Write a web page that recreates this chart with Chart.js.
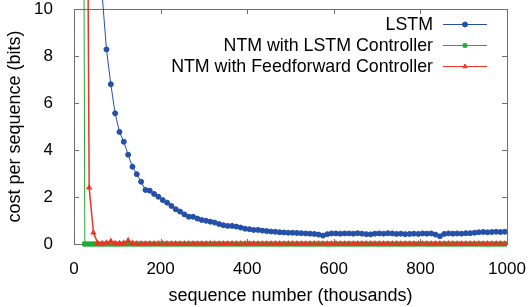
<!DOCTYPE html>
<html>
<head>
<meta charset="utf-8">
<script src="https://cdn.jsdelivr.net/npm/chart.js@4.4.1/dist/chart.umd.min.js"></script>
<style>
  body { margin: 0; background: #fff; }
  #wrap { width: 530px; height: 307px; }
</style>
</head>
<body>
<div id="wrap"><canvas id="chart" width="530" height="307"></canvas></div>
<script>
// sequence numbers (thousands) and cost per sequence (bits)
const lstmSeq = [5, 15, 25, 35, 45, 55, 65, 75, 85, 95,
  105, 115, 125, 135, 145, 155, 165, 175, 185, 195,
  205, 215, 225, 235, 245, 255, 265, 275, 285, 295,
  305, 315, 325, 335, 345, 355, 365, 375, 385, 395,
  405, 415, 425, 435, 445, 455, 465, 475, 485, 495,
  505, 515, 525, 535, 545, 555, 565, 575, 585, 595,
  605, 615, 625, 635, 645, 655, 665, 675, 685, 695,
  705, 715, 725, 735, 745, 755, 765, 775, 785, 795,
  805, 815, 825, 835, 845, 855, 865, 875, 885, 895,
  905, 915, 925, 935, 945, 955, 965, 975, 985, 995];
const lstmCost = [28, 26, 24, 21, 18, 15, 10.6, 8.28, 6.80, 5.56,
  4.77, 4.35, 3.80, 3.29, 2.97, 2.65, 2.30, 2.27, 2.13, 2.01,
  1.87, 1.76, 1.62, 1.48, 1.38, 1.26, 1.16, 1.16, 1.08, 1.02,
  0.99, 0.95, 0.91, 0.85, 0.80, 0.77, 0.77, 0.74, 0.70, 0.65,
  0.63, 0.60, 0.60, 0.57, 0.55, 0.53, 0.52, 0.50, 0.49, 0.48,
  0.48, 0.47, 0.46, 0.45, 0.44, 0.43, 0.40, 0.36, 0.42, 0.45,
  0.45, 0.44, 0.45, 0.45, 0.44, 0.46, 0.44, 0.42, 0.41, 0.44,
  0.45, 0.44, 0.46, 0.45, 0.43, 0.44, 0.42, 0.43, 0.44, 0.43,
  0.45, 0.44, 0.45, 0.40, 0.33, 0.43, 0.45, 0.44, 0.45, 0.44,
  0.46, 0.46, 0.48, 0.50, 0.51, 0.50, 0.51, 0.52, 0.51, 0.52];

const ntmLstmSeq = [15, 25, 35, 45, 55, 65, 75, 85, 95,
  105, 115, 125, 135, 145, 155, 165, 175, 185, 195,
  205, 215, 225, 235, 245, 255, 265, 275, 285, 295,
  305, 315, 325, 335, 345, 355, 365, 375, 385, 395,
  405, 415, 425, 435, 445, 455, 465, 475, 485, 495,
  505, 515, 525, 535, 545, 555, 565, 575, 585, 595,
  605, 615, 625, 635, 645, 655, 665, 675, 685, 695,
  705, 715, 725, 735, 745, 755, 765, 775, 785, 795,
  805, 815, 825, 835, 845, 855, 865, 875, 885, 895,
  905, 915, 925, 935, 945, 955, 965, 975, 985, 995];
const ntmLstmCost = [60, 0, 0, 0, 0, 0, 0, 0, 0,
  0, 0, 0, 0, 0, 0, 0, 0, 0, 0,
  0, 0, 0, 0, 0, 0, 0, 0, 0, 0,
  0, 0, 0, 0, 0, 0, 0, 0, 0, 0,
  0, 0, 0, 0, 0, 0, 0, 0, 0, 0,
  0, 0, 0, 0, 0, 0, 0, 0, 0, 0,
  0, 0, 0, 0, 0, 0, 0, 0, 0, 0,
  0, 0, 0, 0, 0, 0, 0, 0, 0, 0,
  0, 0, 0, 0, 0, 0, 0, 0, 0, 0,
  0, 0, 0, 0, 0, 0, 0, 0, 0, 0];

const ntmFfSeq = [25, 35, 45, 55, 65, 75, 85, 95,
  105, 115, 125, 135, 145, 155, 165, 175, 185, 195,
  205, 215, 225, 235, 245, 255, 265, 275, 285, 295,
  305, 315, 325, 335, 345, 355, 365, 375, 385, 395,
  405, 415, 425, 435, 445, 455, 465, 475, 485, 495,
  505, 515, 525, 535, 545, 555, 565, 575, 585, 595,
  605, 615, 625, 635, 645, 655, 665, 675, 685, 695,
  705, 715, 725, 735, 745, 755, 765, 775, 785, 795,
  805, 815, 825, 835, 845, 855, 865, 875, 885, 895,
  905, 915, 925, 935, 945, 955, 965, 975, 985, 995];
const ntmFfCost = [37, 2.4, 0.48, 0.03, 0.02, 0.05, 0.12, 0.03,
  0.02, 0.04, 0.15, 0.03, 0.01, 0.01, 0.01, 0.01, 0.01, 0.01,
  0.01, 0.01, 0.01, 0.01, 0.01, 0.01, 0.01, 0.01, 0.01, 0.01,
  0.01, 0.01, 0.01, 0.01, 0.01, 0.01, 0.01, 0.01, 0.01, 0.01,
  0.01, 0.01, 0.01, 0.01, 0.01, 0.01, 0.01, 0.01, 0.01, 0.01,
  0.01, 0.01, 0.01, 0.01, 0.01, 0.01, 0.01, 0.01, 0.01, 0.01,
  0.01, 0.01, 0.01, 0.01, 0.01, 0.01, 0.01, 0.01, 0.01, 0.01,
  0.01, 0.01, 0.01, 0.01, 0.01, 0.01, 0.01, 0.01, 0.01, 0.01,
  0.01, 0.01, 0.01, 0.01, 0.01, 0.01, 0.01, 0.01, 0.01, 0.01,
  0.01, 0.01, 0.01, 0.01, 0.01, 0.01, 0.01, 0.01, 0.01, 0.01];

const seriesLabels = ['LSTM', 'NTM with LSTM Controller', 'NTM with Feedforward Controller'];
const xTicks = [0, 200, 400, 600, 800, 1000];
const yTicks = [0, 2, 4, 6, 8, 10];

const FONT = '"Liberation Sans", Arial, Helvetica, sans-serif';
const toPoints = (xs, ys) => xs.map((x, i) => ({ x: x, y: ys[i] }));
const lineClip = { left: 0, top: 10, right: 0, bottom: 4 };

// gnuplot style frame with inward ticks on all four sides
const framePlugin = {
  id: 'frame',
  beforeDatasetsDraw(chart) {
    const { ctx, chartArea: a, scales } = chart;
    ctx.save();
    ctx.strokeStyle = '#6e6e6e';
    ctx.lineWidth = 1;
    ctx.strokeRect(a.left + 0.5, a.top + 0.5, a.right - a.left, a.bottom - a.top);
    ctx.beginPath();
    xTicks.slice(1, -1).forEach(v => {
      const x = Math.round(scales.x.getPixelForValue(v)) + 0.5;
      ctx.moveTo(x, a.bottom); ctx.lineTo(x, a.bottom - 5);
      ctx.moveTo(x, a.top); ctx.lineTo(x, a.top + 5);
    });
    yTicks.slice(1, -1).forEach(v => {
      const y = Math.round(scales.y.getPixelForValue(v)) + 0.5;
      ctx.moveTo(a.left, y); ctx.lineTo(a.left + 5, y);
      ctx.moveTo(a.right, y); ctx.lineTo(a.right - 5, y);
    });
    ctx.stroke();
    ctx.restore();
  }
};

// legend inside the plot, text right aligned, sample line on the right
const keyPlugin = {
  id: 'key',
  afterDraw(chart) {
    const ctx = chart.ctx;
    ctx.save();
    ctx.font = '17.8px ' + FONT;
    ctx.textAlign = 'right';
    ctx.textBaseline = 'middle';
    chart.data.datasets.forEach((ds, i) => {
      const y = 24 + i * 21;
      ctx.fillStyle = '#000';
      ctx.fillText(ds.label, 433, y + 1);
      ctx.strokeStyle = ds.borderColor;
      ctx.lineWidth = 1;
      ctx.beginPath();
      ctx.moveTo(443, y + 0.5);
      ctx.lineTo(487, y + 0.5);
      ctx.stroke();
      ctx.fillStyle = ds.pointBackgroundColor;
      Chart.helpers.drawPoint(ctx, { pointStyle: ds.pointStyle, radius: 2.5, rotation: 0, borderWidth: 1 }, 465, y + 0.5);
    });
    ctx.restore();
  }
};

new Chart(document.getElementById('chart'), {
  type: 'line',
  data: {
    datasets: [
      {
        label: seriesLabels[0],
        data: toPoints(lstmSeq, lstmCost),
        borderColor: '#2450a8',
        backgroundColor: '#2450a8',
        pointBackgroundColor: '#2450a8',
        pointBorderColor: '#2450a8',
        pointStyle: 'circle',
        pointRadius: 2.5,
        borderWidth: 1,
        order: 0,
        clip: lineClip
      },
      {
        label: seriesLabels[1],
        data: toPoints(ntmLstmSeq, ntmLstmCost),
        borderColor: '#22a832',
        backgroundColor: '#22a832',
        pointBackgroundColor: '#22a832',
        pointBorderColor: '#22a832',
        pointStyle: 'rect',
        pointRadius: 3,
        borderWidth: 1,
        order: 2,
        clip: lineClip
      },
      {
        label: seriesLabels[2],
        data: toPoints(ntmFfSeq, ntmFfCost),
        borderColor: '#ee3322',
        backgroundColor: '#ee3322',
        pointBackgroundColor: '#ee3322',
        pointBorderColor: '#ee3322',
        pointStyle: 'triangle',
        pointRadius: 2.2,
        borderWidth: 1.5,
        order: 1,
        clip: lineClip
      }
    ]
  },
  options: {
    responsive: false,
    animation: false,
    layout: { padding: { top: 9, right: 23, left: 0, bottom: 0 } },
    plugins: {
      legend: { display: false },
      tooltip: { enabled: false }
    },
    scales: {
      x: {
        type: 'linear',
        min: 0,
        max: 1000,
        afterFit: s => { s.height = 63; s.paddingLeft = 0; s.paddingRight = 0; },
        afterBuildTicks: s => { s.ticks = xTicks.map(v => ({ value: v })); },
        grid: { display: false },
        border: { display: false },
        ticks: { color: '#000', padding: 7, maxRotation: 0, callback: v => String(v), font: { family: FONT, size: 17 } },
        title: { display: true, text: 'sequence number (thousands)', color: '#000', padding: 0, font: { family: FONT, size: 18 } }
      },
      y: {
        min: 0,
        max: 10,
        afterFit: s => { s.width = 74; s.paddingTop = 0; s.paddingBottom = 0; },
        afterBuildTicks: s => { s.ticks = yTicks.map(v => ({ value: v })); },
        grid: { display: false },
        border: { display: false },
        ticks: { color: '#000', padding: 13, callback: v => String(v), font: { family: FONT, size: 17 } },
        title: { display: true, text: 'cost per sequence (bits)', color: '#000', padding: 4, font: { family: FONT, size: 18 } }
      }
    }
  },
  plugins: [framePlugin, keyPlugin]
});
</script>
</body>
</html>
